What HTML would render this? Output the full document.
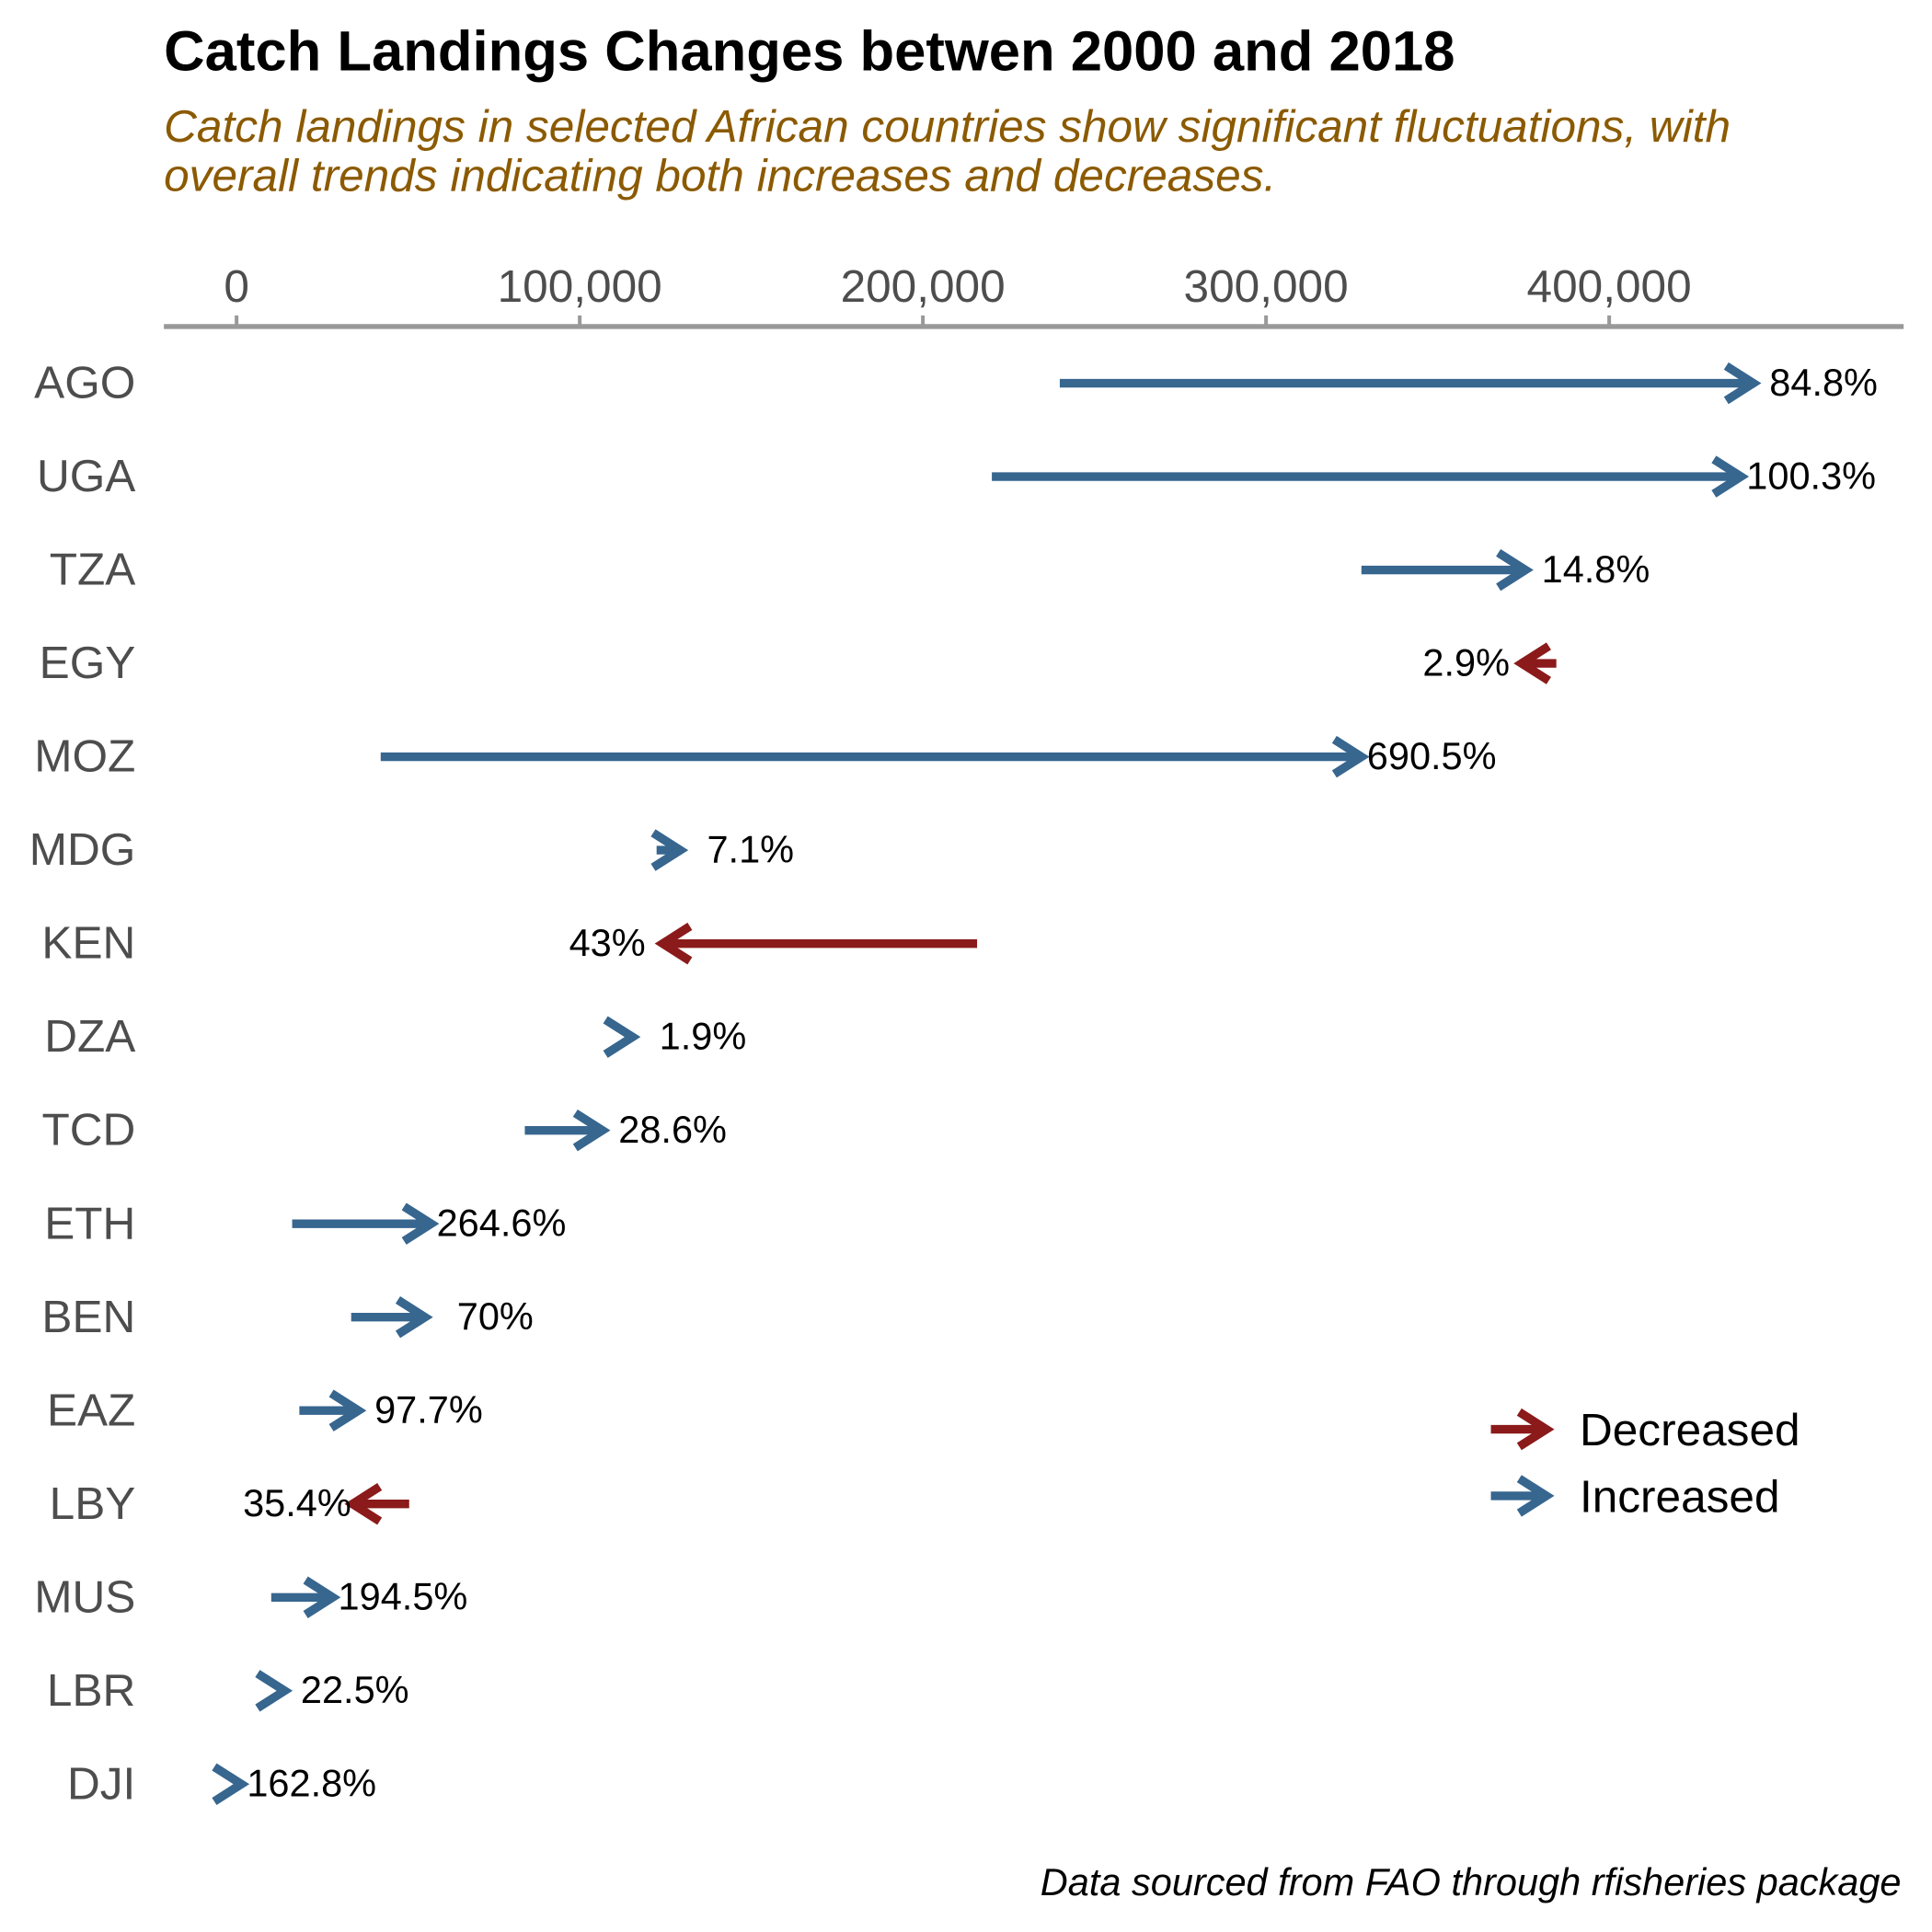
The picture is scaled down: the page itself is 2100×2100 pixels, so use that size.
<!DOCTYPE html>
<html><head><meta charset="utf-8"><style>
html,body{margin:0;padding:0;background:#fff;}
svg{display:block;font-family:"Liberation Sans",Arial,sans-serif;}
</style></head><body>
<svg id="chart" width="2100" height="2100" viewBox="0 0 1568 1568" xmlns="http://www.w3.org/2000/svg">
<text x="133" y="57" font-size="46" font-weight="bold" fill="#000">Catch Landings Changes betwen 2000 and 2018</text>
<text x="133" y="115" font-size="37" font-style="italic" fill="#8B5A00">Catch landings in selected African countries show significant fluctuations, with</text>
<text x="133" y="155" font-size="37" font-style="italic" fill="#8B5A00">overall trends indicating both increases and decreases.</text>
<text x="1543" y="1538" font-size="31" font-style="italic" fill="#000" text-anchor="end">Data sourced from FAO through rfisheries package</text>
<g id="axis"></g>
<g id="marks"></g>
<g id="legend"></g>
</svg>
<script>
const countries = ["AGO","UGA","TZA","EGY","MOZ","MDG","KEN","DZA","TCD","ETH","BEN","EAZ","LBY","MUS","LBR","DJI"];
const start2000 = [239900,220100,327800,384600,42000,122400,215800,115000,84000,16200,33400,18300,50300,10100,12900,1200];
const end2018 = [443800,440200,377400,372700,329600,131100,122400,117200,108400,58500,56700,37300,32000,29800,15800,3200];
const pctLabels = ["84.8%","100.3%","14.8%","2.9%","690.5%","7.1%","43%","1.9%","28.6%","264.6%","70%","97.7%","35.4%","194.5%","22.5%","162.8%"];
const tickValues = [0,100000,200000,300000,400000];
const tickLabels = ["0","100,000","200,000","300,000","400,000"];

const NS="http://www.w3.org/2000/svg";
const x = v => 192 + v/100000*278.5;
const y = i => 311 + i*75.8;
const BLUE="#37668F", RED="#8B1A1A";
function mk(tag, attrs, parent){const e=document.createElementNS(NS,tag);for(const k in attrs)e.setAttribute(k,attrs[k]);parent.appendChild(e);return e;}
const axis=document.getElementById('axis'), marks=document.getElementById('marks'), legend=document.getElementById('legend');

let al=mk('line',{x1:133,x2:1545,y1:265,y2:265,stroke:"#999",'stroke-width':4},axis);


tickValues.forEach((v,i)=>{
  let t=mk('line',{x1:x(v),x2:x(v),y1:256,y2:265,stroke:"#999",'stroke-width':3},axis);
  
  
  let l=mk('text',{x:x(v),y:245,'font-size':37,fill:"#4d4d4d",'text-anchor':'middle'},axis);
  l.textContent=tickLabels[i];
  
  
});

function arrow(parent,x1,x2,yy,col){
  const dir = x2>=x1?1:-1;
  const tip = x2-dir*5;
  mk('line',{x1:x1,x2:tip-dir*2,y1:yy,y2:yy,stroke:col,'stroke-width':7},parent);
  mk('polyline',{points:`${tip-dir*22},${yy-14} ${tip},${yy} ${tip-dir*22},${yy+14}`,fill:'none',stroke:col,'stroke-width':7,'stroke-linejoin':'miter','stroke-miterlimit':4},parent);
}

countries.forEach((c,i)=>{
  const yy=y(i);
  let lab=mk('text',{x:110,y:yy+12,'font-size':37,fill:"#4d4d4d",'text-anchor':'end'},marks);
  lab.textContent=c;
  
  
  const inc=end2018[i]>=start2000[i];
  const g=mk('g',{},marks);
  
  
  arrow(g,x(start2000[i]),x(end2018[i]),yy,inc?BLUE:RED);
  let t=mk('text',{x:x(end2018[i])+(inc?52:-40),y:yy+10,'font-size':31,fill:"#000",'text-anchor':'middle'},marks);
  t.textContent=pctLabels[i];
  
  
});

[["Decreased",RED,1160],["Increased",BLUE,1214]].forEach(d=>{
  const g=mk('g',{},legend);
  
  
  arrow(g,1210,1260,d[2],d[1]);
  const t=mk('text',{x:1282,y:d[2]+13,'font-size':37,fill:"#000"},g);
  t.textContent=d[0];
});
</script>
</body></html>
